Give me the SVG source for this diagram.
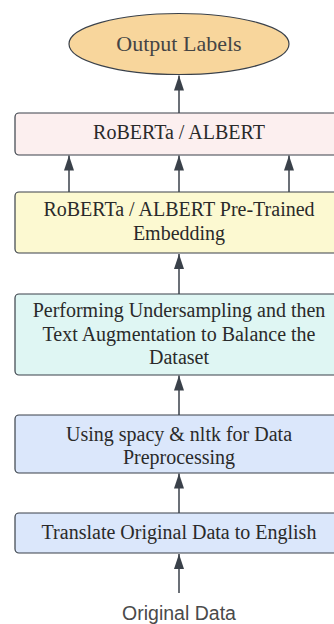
<svg xmlns="http://www.w3.org/2000/svg" width="334" height="624" viewBox="0 0 334 624">
<defs>
<style>
.box{stroke:#3a414a;stroke-width:1.2}
.t{font-family:"Liberation Serif","Times New Roman",serif;font-size:20px;fill:#2a2a2a;text-anchor:middle}
.s{font-family:"Liberation Sans",Arial,sans-serif;font-size:19.5px;fill:#4a4a4a;text-anchor:middle}
.c{stroke:#3a414a;stroke-width:1.5;fill:none}
</style>
<marker id="ah" viewBox="0 0 15 10" refX="15" refY="5" markerWidth="15" markerHeight="10" markerUnits="userSpaceOnUse" orient="auto">
<path d="M0,0 L15,5 L0,10 Z" fill="#3a414a"/>
</marker>
</defs>
<rect width="334" height="624" fill="#fff"/>
<g id="connectors">
<line class="c" x1="179" y1="113" x2="179" y2="75.5" marker-end="url(#ah)"/>
<line class="c" x1="69" y1="192" x2="69" y2="155.5" marker-end="url(#ah)"/>
<line class="c" x1="179" y1="192" x2="179" y2="155.5" marker-end="url(#ah)"/>
<line class="c" x1="289" y1="192" x2="289" y2="155.5" marker-end="url(#ah)"/>
<line class="c" x1="179" y1="294" x2="179" y2="254" marker-end="url(#ah)"/>
<line class="c" x1="179" y1="415" x2="179" y2="375.5" marker-end="url(#ah)"/>
<line class="c" x1="179" y1="513" x2="179" y2="473.5" marker-end="url(#ah)"/>
<line class="c" x1="179" y1="593" x2="179" y2="554" marker-end="url(#ah)"/>
</g>
<g id="output">
<ellipse class="box" cx="179" cy="44" rx="110" ry="30.5" fill="#f8d69c"/>
<text class="t" x="179" y="51" style="font-size:22px;fill:#444">Output Labels</text>
</g>
<g id="model">
<rect class="box" x="15" y="113" width="330" height="42" rx="4" fill="#fcefef"/>
<text class="t" x="179" y="139">RoBERTa / ALBERT</text>
</g>
<g id="embedding">
<rect class="box" x="15" y="192" width="330" height="61" rx="4" fill="#fcf9d1"/>
<text class="t" x="179" y="216">RoBERTa / ALBERT Pre-Trained</text>
<text class="t" x="179" y="240">Embedding</text>
</g>
<g id="balance">
<rect class="box" x="15" y="294" width="330" height="81" rx="4" fill="#dff6f3"/>
<text class="t" x="179" y="317">Performing Undersampling and then</text>
<text class="t" x="179" y="341">Text Augmentation to Balance the</text>
<text class="t" x="179" y="364">Dataset</text>
</g>
<g id="preprocess">
<rect class="box" x="15" y="415" width="330" height="58" rx="4" fill="#dbe7fb"/>
<text class="t" x="179" y="441">Using spacy &amp; nltk for Data</text>
<text class="t" x="179" y="464">Preprocessing</text>
</g>
<g id="translate">
<rect class="box" x="15" y="513" width="330" height="40" rx="4" fill="#dbe7fb"/>
<text class="t" x="179" y="539">Translate Original Data to English</text>
</g>
<g id="original">
<text class="s" x="179" y="620">Original Data</text>
</g>
</svg>
